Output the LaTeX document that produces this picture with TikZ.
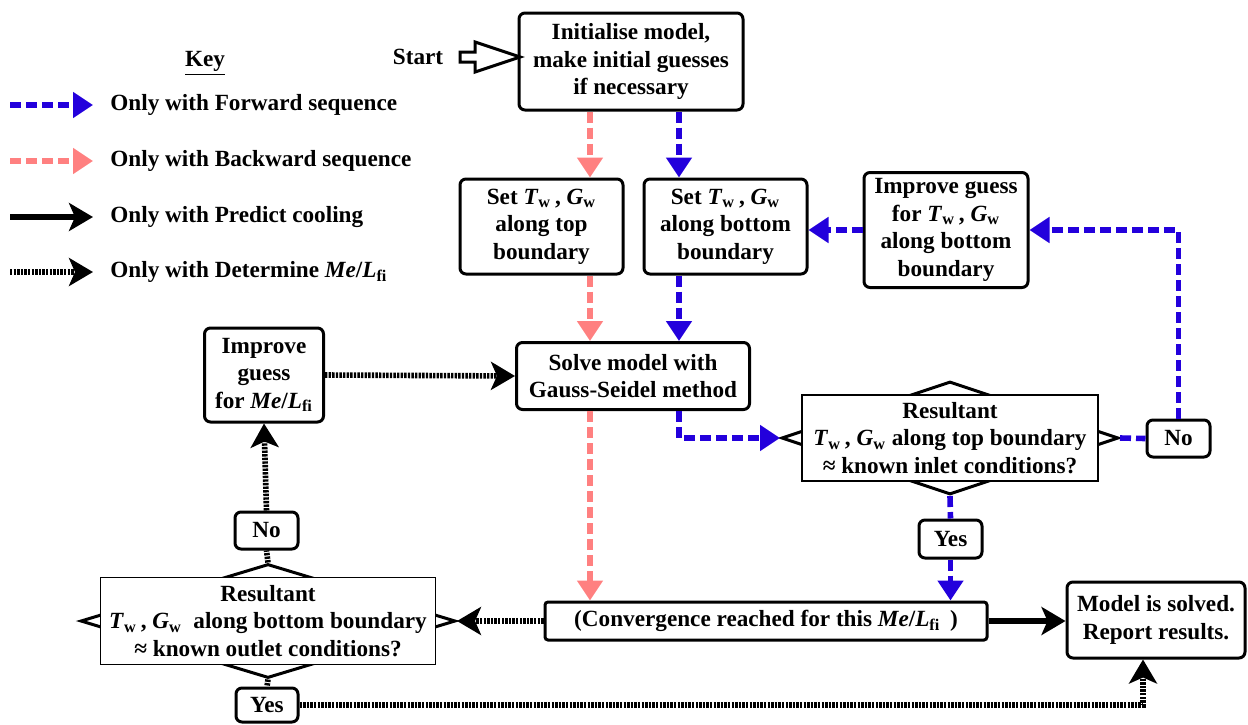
\documentclass[tikz,border=0pt]{standalone}
\usepackage{fontspec}
\setmainfont{Liberation Serif}
\usetikzlibrary{arrows.meta,shapes.geometric,calc}
\definecolor{fwdblue}{RGB}{35,0,220}
\definecolor{bwdpink}{RGB}{255,128,128}
\newcommand{\Tw}{\textit{T}\textsubscript{w}}
\newcommand{\Gw}{\textit{G}\textsubscript{w}}
\newcommand{\MeL}{\textit{Me}/\textit{L}\textsubscript{fi}}
\tikzset{
  box/.style={draw, line width=1.5pt, rounded corners=3pt, align=center, inner sep=0pt, fill=white},
  qbox/.style={draw, line width=0.8pt, align=center, inner sep=0pt, fill=white},
  decision/.style={draw, diamond, line width=1.5pt, inner sep=0pt},
  fwd/.style={fwdblue, line width=2.8pt, dash pattern=on 5.5pt off 2.5pt, -{Triangle[length=10pt,width=12.5pt]}},
  bwd/.style={bwdpink, line width=2.8pt, dash pattern=on 5.5pt off 2.5pt, -{Triangle[length=10pt,width=12.5pt]}},
  pred/.style={black, line width=3pt, -{Stealth[length=12pt,width=14pt,inset=3pt]}},
  det/.style={black, line width=2.8pt, dash pattern=on 1.2pt off 0.6pt, -{Stealth[length=12pt,width=14pt,inset=3pt]}},
}
\begin{document}
\begin{tikzpicture}[x=0.5pt, y=-0.5pt, every node/.style={font=\fontsize{11.6}{13.75}\selectfont\bfseries}]
  \useasboundingbox (0,0) rectangle (1248,724);

  % key
  \node at (205,63) {\underline{Key}};
  \node (keyfwd) at (110,105) [anchor=west, inner sep=0pt] {Only with Forward sequence};
  \node (keybwd) at (110,161) [anchor=west, inner sep=0pt] {Only with Backward sequence};
  \node (keypred) at (110,217) [anchor=west, inner sep=0pt] {Only with Predict cooling};
  \node (keydet) at (110,272) [anchor=west, inner sep=0pt] {Only with Determine \MeL};
  \draw[fwd] ($(keyfwd.west)+(-100,0)$) -- ($(keyfwd.west)+(-17,0)$);
  \draw[bwd] ($(keybwd.west)+(-100,0)$) -- ($(keybwd.west)+(-17,0)$);
  \draw[pred] ($(keypred.west)+(-100,0)$) -- ($(keypred.west)+(-17,0)$);
  \draw[det] ($(keydet.west)+(-100,0)$) -- ($(keydet.west)+(-17,0)$);

  % boxes
  \node (start) at (418,57) {Start};
  \node (init) at (631,61.5) [box, minimum width=112pt, minimum height=48.5pt] {Initialise model,\\make initial guesses\\if necessary};
  \node (settop) at (541.5,226.5) [box, minimum width=81.5pt, minimum height=47.5pt] {Set \Tw\,, \Gw\\along top\\boundary};
  \node (setbot) at (725.5,226.5) [box, minimum width=81.5pt, minimum height=47.5pt] {Set \Tw\,, \Gw\\along bottom\\boundary};
  \node (improvetw) at (946,230) [box, minimum width=82pt, minimum height=57.5pt] {Improve guess\\for \Tw\,, \Gw\\along bottom\\boundary};
  \node (solve) at (633,376) [box, minimum width=116.5pt, minimum height=33.5pt] {Solve model with\\Gauss-Seidel method};
  \node (improveme) at (264,375) [box, minimum width=59.5pt, minimum height=47pt] {Improve\\guess\\for \MeL};
  \node (dectop) at (950,438) [decision, minimum width=168.5pt, minimum height=56.5pt] {};
  \node (dectoptext) at (950,438) [qbox, minimum width=148pt, minimum height=43pt] {Resultant\\\Tw\,, \Gw\ along top boundary\\≈ known inlet conditions?};
  \node (notop) at (1178.5,438.5) [box, minimum width=31.5pt, minimum height=18.5pt] {No};
  \node (yestop) at (950.5,539) [box, minimum width=31.5pt, minimum height=19pt] {Yes};
  \node (conv) at (766,621) [box, rounded corners=1.5pt, minimum width=221pt, minimum height=19pt] {(Convergence reached for this \MeL\ \,)};
  \node (done) at (1156,620) [box, minimum width=89pt, minimum height=38pt] {Model is solved.\\Report results.};
  \node (decbot) at (268,621) [decision, minimum width=187.5pt, minimum height=57pt] {};
  \node (decbottext) at (268,621) [qbox, minimum width=167.5pt, minimum height=43.5pt] {Resultant\\\Tw\,, \Gw\ \ along bottom boundary\\≈ known outlet conditions?};
  \node (nobot) at (266.5,530.5) [box, minimum width=31.5pt, minimum height=18.5pt] {No};
  \node (yesbot) at (267,705) [box, minimum width=31pt, minimum height=17pt] {Yes};

  \coordinate (bwdx) at (590,0);
  \coordinate (fwdx) at (679,0);
  \coordinate (detx) at (1143,0);

  \draw[line width=1.5pt] ($(start.east)+(10,-5)$) -- ++(15,0) -- ++(0,-10) -- ++(45,15) -- ++(-45,15) -- ++(0,-10) -- ++(-15,0) -- cycle;

  % arrows
  \draw[bwd] (init.south -| bwdx) -- (settop.north -| bwdx);
  \draw[fwd] (init.south -| fwdx) -- (setbot.north -| fwdx);
  \draw[bwd] (settop.south -| bwdx) -- (solve.north -| bwdx);
  \draw[fwd] (setbot.south -| fwdx) -- (solve.north -| fwdx);
  \draw[bwd] (solve.south -| bwdx) -- (conv.north -| bwdx);
  \draw[fwd] (solve.south -| fwdx) |- (dectop.west);
  \draw[fwd, -] (dectop.east) -- (notop.west);
  \draw[fwd] (notop.north) |- (improvetw.east);
  \draw[fwd] (improvetw.west) -- (improvetw.west -| setbot.east);
  \draw[fwd, -] (dectop.south) -- (yestop.north);
  \draw[fwd] (yestop.south) -- (conv.north -| yestop.south);
  \draw[pred] (conv.east) -- (conv.east -| done.west);
  \draw[det] (conv.west) -- (decbot.east);
  \draw[det, -] (decbot.north) -- (nobot.south);
  \draw[det] (nobot.north) -- (improveme.south);
  \draw[det] (improveme.east) -- (solve.west);
  \draw[det, -] (decbot.south) -- (yesbot.north);
  \draw[det] (yesbot.east) -| (done.south -| detx);
\end{tikzpicture}
\end{document}
